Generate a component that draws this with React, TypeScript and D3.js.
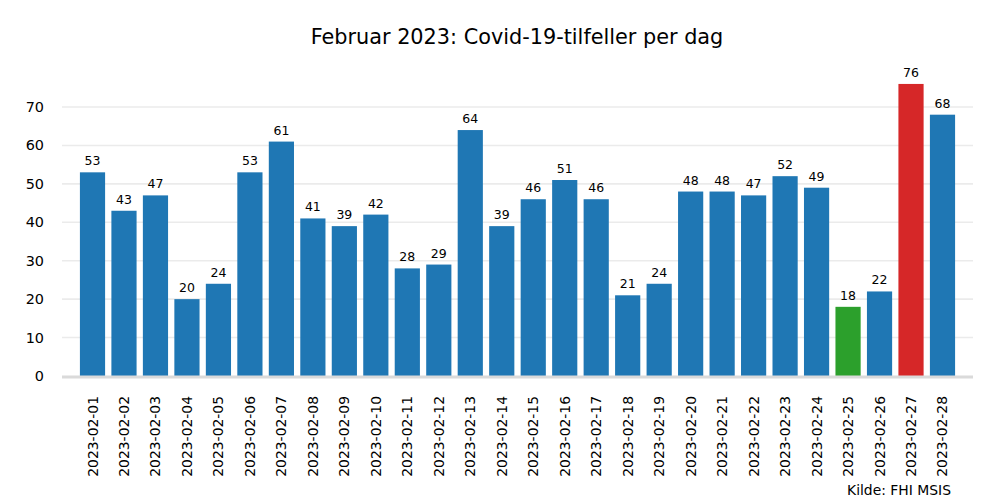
import React from "react";
import * as d3 from "d3";

const dates = [
  "2023-02-01","2023-02-02","2023-02-03","2023-02-04","2023-02-05","2023-02-06","2023-02-07",
  "2023-02-08","2023-02-09","2023-02-10","2023-02-11","2023-02-12","2023-02-13","2023-02-14",
  "2023-02-15","2023-02-16","2023-02-17","2023-02-18","2023-02-19","2023-02-20","2023-02-21",
  "2023-02-22","2023-02-23","2023-02-24","2023-02-25","2023-02-26","2023-02-27","2023-02-28",
];
const cases = [53,43,47,20,24,53,61,41,39,42,28,29,64,39,46,51,46,21,24,48,48,47,52,49,18,22,76,68];
const minDate = "2023-02-25";
const maxDate = "2023-02-27";
const yTicks = [0,10,20,30,40,50,60,70];
const title = "Februar 2023: Covid-19-tilfeller per dag";
const source = "Kilde: FHI MSIS";

const W = 1000, H = 500;
const left = 62, right = 973, base = 376;
const font = "DejaVu Sans, sans-serif";

export default function App() {
  const x = d3.scaleBand<string>().domain(dates).range([left, right]).paddingInner(0.2).paddingOuter(0.569);
  const y = d3.scaleLinear().domain([0, 70]).range([base, 107]);
  const color = (d: string) => (d === maxDate ? "#d62728" : d === minDate ? "#2ca02c" : "#1f77b4");
  return (
    <svg width={W} height={H} style={{ position: "absolute", left: 0, top: 0, background: "#fff" }}>
      <text x={517} y={44} textAnchor="middle" fontFamily={font} fontSize={20.8} fill="#000">{title}</text>
      {yTicks.map((t) => (
        <g key={t}>
          {t > 0 && <line x1={left} x2={right} y1={y(t)} y2={y(t)} stroke="#ebebeb" strokeWidth={1.6} />}
          <text x={44} y={y(t)} dy="0.35em" textAnchor="end" fontFamily={font} fontSize={14.4} fill="#000">{t}</text>
        </g>
      ))}
      {dates.map((d, i) => (
        <g key={d}>
          <rect x={x(d)} y={y(cases[i])} width={x.bandwidth()} height={base - y(cases[i])} fill={color(d)} />
          <text x={(x(d) as number) + x.bandwidth() / 2} y={y(cases[i]) - 7} textAnchor="middle" fontFamily={font} fontSize={12.5} fill="#000">{cases[i]}</text>
          <text transform={`translate(${(x(d) as number) + x.bandwidth() / 2 + 5},${396}) rotate(-90)`} textAnchor="end" fontFamily={font} fontSize={13.9} fill="#000">{d}</text>
        </g>
      ))}
      <line x1={left} x2={right} y1={base + 1} y2={base + 1} stroke="#dadada" strokeWidth={3} />
      <text x={951} y={495} textAnchor="end" fontFamily={font} fontSize={13.9} fill="#000">{source}</text>
    </svg>
  );
}
